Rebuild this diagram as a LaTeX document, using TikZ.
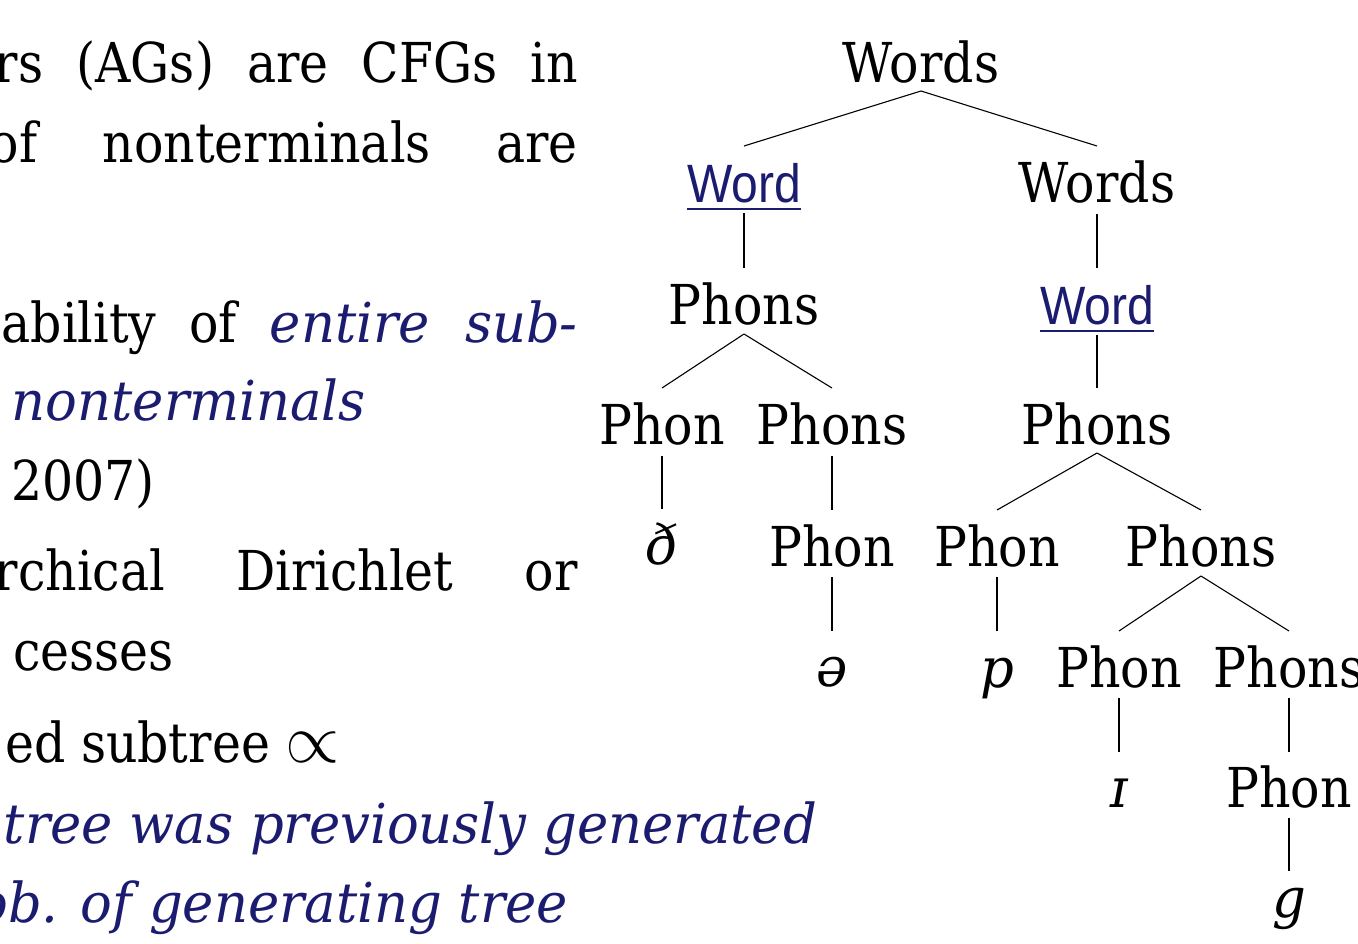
\documentclass[tikz,border=0pt]{standalone}
\usepackage{graphicx}
\usepackage{fontspec}
\setmainfont{DejaVu Serif}[UprightFeatures={FakeStretch=0.89},ItalicFeatures={FakeStretch=0.96}]
\newfontfamily\wordfont{Liberation Sans}[FakeStretch=0.89]
\definecolor{navy}{RGB}{27,27,112}
\tikzset{
  txt/.style={inner sep=0pt, font=\fontsize{55}{66}\selectfont},
  lineE/.style={txt, anchor=base east},
  emph/.style={txt, anchor=base east, text=navy, font=\fontsize{55}{66}\selectfont\itshape},
  lbl/.style={txt, anchor=base},
  term/.style={txt, anchor=base, font=\fontsize{55}{66}\selectfont\itshape},
  wordlbl/.style={inner sep=0pt, anchor=base, text=navy, font=\wordfont\fontsize{54}{64}\selectfont},
  uline/.style={navy, line width=2pt},
  edge/.style={line width=1.1pt},
}
\newcommand{\jline}[2]{\makebox[#1][s]{#2}}
\newcommand{\bigprop}{\scalebox{2.8}{$\propto$}}
\begin{document}
\begin{tikzpicture}[x=1pt,y=-1pt]
\useasboundingbox (0,0) rectangle (1358,943);
\clip (0,0) rectangle (1358,943);
% ---------- left text column ----------
\node[lineE] (l1) at (578,82) {\jline{583pt}{rs (AGs) are CFGs in}};
\node[lineE] (l2) at (578,162) {\jline{588pt}{of nonterminals are}};
\node[lineE] (l4) at (578,342) {\jline{576pt}{ability of \textcolor{navy}{\itshape entire sub-}}};
\node[emph] (l5) at (366,420) {nonterminals};
\node[lineE] (l6) at (155,500) {2007)};
\node[lineE] (l7) at (578,590) {\jline{583pt}{rchical Dirichlet or}};
\node[lineE] (l8) at (174,670) {cesses};
\node[lineE] (l9) at (340,762) {ed subtree \bigprop};
\node[emph] (l10) at (817,843) {tree was previously generated};
\node[emph] (l11) at (568,922) {ob. of generating tree};
% ---------- tree ----------
\node[lbl] (root) at (921,82) {Words};
\node[wordlbl] (w1) at (744,202) {Word};
\node[lbl] (ws1) at (1097,202) {Words};
\node[lbl] (ph1) at (744,324) {Phons};
\node[wordlbl] (w2) at (1097,324) {Word};
\node[lbl] (p1) at (662,444) {Phon};
\node[lbl] (ps1) at (832,444) {Phons};
\node[lbl] (ps2) at (1097,444) {Phons};
\node[term] (t1) at (662,564) {ð};
\node[lbl] (p2) at (832,566) {Phon};
\node[lbl] (p3) at (997,566) {Phon};
\node[lbl] (ps3) at (1201,566) {Phons};
\node[term] (t2) at (832,686) {ə};
\node[term] (t3) at (997,687) {p};
\node[lbl] (p4) at (1119,687) {Phon};
\node[lbl] (ps4) at (1289,687) {Phons};
\node[term] (t4) at (1119,807) {ɪ};
\node[lbl] (p5) at (1289,807) {Phon};
\node[term] (t5) at (1289,917) {g};
% underlines
\draw[uline] ([yshift=-7pt]w1.base west) -- ([yshift=-7pt]w1.base east);
\draw[uline] ([yshift=-7pt]w2.base west) -- ([yshift=-7pt]w2.base east);
% edges
\draw[edge] ([yshift=-9pt]root.base) -- ([yshift=56pt]w1.base);
\draw[edge] ([yshift=-9pt]root.base) -- ([yshift=56pt]ws1.base);
\draw[edge] ([yshift=-11pt]w1.base) -- ([yshift=56pt]ph1.base);
\draw[edge] ([yshift=-12pt]ws1.base) -- ([yshift=56pt]w2.base);
\draw[edge] ([yshift=-10pt]ph1.base) -- ([yshift=56pt]p1.base);
\draw[edge] ([yshift=-10pt]ph1.base) -- ([yshift=56pt]ps1.base);
\draw[edge] ([yshift=-11pt]w2.base) -- ([yshift=56pt]ps2.base);
\draw[edge] ([yshift=-12pt]p1.base) -- ([yshift=55pt]t1.base);
\draw[edge] ([yshift=-12pt]ps1.base) -- ([yshift=56pt]p2.base);
\draw[edge] ([yshift=-9pt]ps2.base) -- ([yshift=56pt]p3.base);
\draw[edge] ([yshift=-9pt]ps2.base) -- ([yshift=56pt]ps3.base);
\draw[edge] ([yshift=-11pt]p2.base) -- ([yshift=55pt]t2.base);
\draw[edge] ([yshift=-11pt]p3.base) -- ([yshift=56pt]t3.base);
\draw[edge] ([yshift=-10pt]ps3.base) -- ([yshift=56pt]p4.base);
\draw[edge] ([yshift=-10pt]ps3.base) -- ([yshift=56pt]ps4.base);
\draw[edge] ([yshift=-11pt]p4.base) -- ([yshift=55pt]t4.base);
\draw[edge] ([yshift=-11pt]ps4.base) -- ([yshift=55pt]p5.base);
\draw[edge] ([yshift=-11pt]p5.base) -- ([yshift=46pt]t5.base);
\end{tikzpicture}
\end{document}
